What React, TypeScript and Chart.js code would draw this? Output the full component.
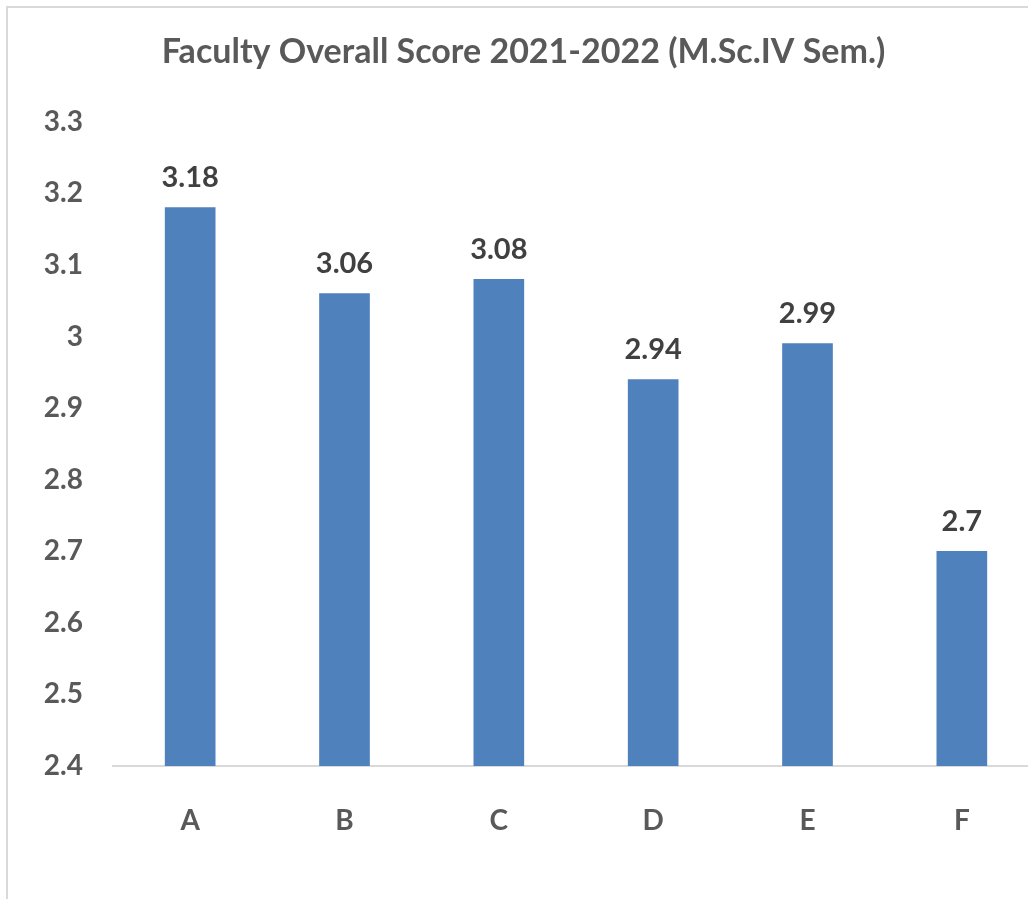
import React, { useEffect, useRef } from "react";
import { Chart, registerables } from "chart.js";

Chart.register(...registerables);

const TITLE = "Faculty Overall Score 2021-2022 (M.Sc.IV Sem.)";
const categories = ["A", "B", "C", "D", "E", "F"];
const scores = [3.18, 3.06, 3.08, 2.94, 2.99, 2.7];
const yMin = 2.4;
const yMax = 3.3;
const yStep = 0.1;

const FONT = "Lato, 'Open Sans', sans-serif";

const valueLabels = {
  id: "valueLabels",
  afterDatasetsDraw(chart: any) {
    const ctx = chart.ctx;
    const meta = chart.getDatasetMeta(0);
    ctx.save();
    ctx.font = `bold 29px ${FONT}`;
    ctx.fillStyle = "#404040";
    ctx.textAlign = "center";
    ctx.textBaseline = "middle";
    meta.data.forEach((bar: any, i: number) => {
      ctx.fillText(String(scores[i]), bar.x, bar.y - 30);
    });
    ctx.restore();
  },
};

export default function App() {
  const ref = useRef<HTMLCanvasElement | null>(null);
  useEffect(() => {
    if (!ref.current) return;
    const chart = new Chart(ref.current, {
      type: "bar",
      data: {
        labels: categories,
        datasets: [
          {
            data: scores,
            backgroundColor: "#4F81BD",
            barThickness: 50,
          },
        ],
      },
      options: {
        animation: false,
        responsive: false,
        layout: { padding: { left: 0, right: 9, top: 0, bottom: 0 } },
        plugins: {
          legend: { display: false },
          tooltip: { enabled: false },
          title: {
            display: true,
            text: TITLE,
            color: "#595959",
            font: { family: FONT, size: 34, weight: "bold" },
            padding: { top: 24, bottom: 49 },
          },
        },
        scales: {
          x: {
            grid: { display: false, drawTicks: false },
            border: { display: true, color: "#d9d9d9", width: 2 },
            ticks: {
              color: "#595959",
              font: { family: FONT, size: 28, weight: "bold" },
              padding: 38,
            },
            afterFit(scale: any) {
              scale.height = 142;
            },
          },
          y: {
            min: yMin,
            max: yMax,
            grid: { display: false, drawTicks: false },
            border: { display: false },
            ticks: {
              stepSize: yStep,
              color: "#595959",
              font: { family: FONT, size: 28, weight: "bold" },
              padding: 30,
              callback: (v: any) => String(Number(Number(v).toFixed(1))),
            },
            afterFit(scale: any) {
              scale.width = 105;
            },
          },
        },
      },
      plugins: [valueLabels],
    });
    return () => chart.destroy();
  }, []);

  return (
    <div
      style={{
        position: "fixed",
        left: 0,
        top: 0,
        width: 1028,
        height: 899,
        overflow: "hidden",
        background: "#ffffff",
      }}
    >
      <div
        style={{
          position: "absolute",
          left: 6,
          top: 6,
          width: 1060,
          height: 920,
          borderLeft: "2px solid #d9d9d9",
          borderTop: "2px solid #d9d9d9",
        }}
      >
        <canvas
          ref={ref}
          width={1040}
          height={900}
          style={{ display: "block", width: 1040, height: 900 }}
        />
      </div>
    </div>
  );
}
